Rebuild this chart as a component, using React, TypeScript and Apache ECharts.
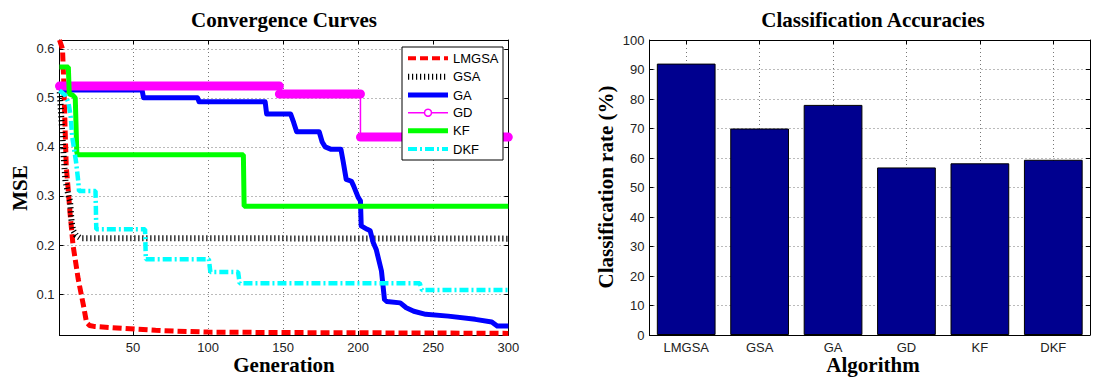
import React, { useEffect, useRef } from "react";
import * as echarts from "echarts";

// ---------- Convergence curves (generation, MSE) ----------
const lmgsaGen = [1, 3, 4, 4.7, 5.5, 6.5, 8, 10, 13.5, 17, 19, 21, 24, 43, 65, 77, 100, 150, 200, 250, 300];
const lmgsaMse = [0.618, 0.6, 0.52, 0.44, 0.36, 0.324, 0.266, 0.2, 0.13, 0.076, 0.042, 0.036, 0.034, 0.03, 0.026, 0.0245, 0.0224, 0.0215, 0.021, 0.0205, 0.0198];

const gsaGen = [1, 2, 3, 4, 5, 7, 8, 9, 10, 12, 15, 300];
const gsaMse = [0.52, 0.47, 0.42, 0.37, 0.33, 0.3, 0.29, 0.25, 0.23, 0.22, 0.214, 0.213];

const gaGen = [1, 56, 57, 93, 94, 138, 139, 155, 157, 159, 174, 176, 178, 182, 188.5, 190, 192, 195.5, 197, 200, 201.5, 202, 206, 208, 210, 212, 215.5, 217.5, 219, 228, 232, 237, 245, 260, 278, 289, 292.6, 300];
const gaMse = [0.516, 0.516, 0.5, 0.5, 0.492, 0.492, 0.467, 0.467, 0.45, 0.431, 0.431, 0.41, 0.4, 0.395, 0.395, 0.37, 0.334, 0.33, 0.32, 0.297, 0.29, 0.239, 0.232, 0.229, 0.205, 0.191, 0.147, 0.089, 0.085, 0.082, 0.072, 0.065, 0.0586, 0.055, 0.0484, 0.043, 0.0347, 0.0347];

// GD: plateau boundaries (generations) and plateau values
const gdGen = [1, 147.5, 201.5, 300];
const gdMse = [0.524, 0.508, 0.42];

const kfGen = [1, 6.9, 7.5, 10, 11.5, 12.5, 13, 123.5, 124, 300];
const kfMse = [0.563, 0.563, 0.508, 0.505, 0.5, 0.39, 0.384, 0.384, 0.279, 0.279];

const dkfGen = [1, 5, 7, 8.5, 9.5, 12, 13.5, 14, 25, 25.5, 58, 58.5, 100.5, 101.5, 120, 121, 241, 242.5, 300];
const dkfMse = [0.515, 0.505, 0.49, 0.46, 0.42, 0.37, 0.33, 0.31, 0.31, 0.232, 0.232, 0.171, 0.171, 0.145, 0.145, 0.122, 0.122, 0.108, 0.108];

// ---------- Classification accuracies ----------
const algorithms = ["LMGSA", "GSA", "GA", "GD", "KF", "DKF"];
const accuracy = [92, 70, 78, 56.8, 58.2, 59.4];

const seriesNames = ["LMGSA", "GSA", "GA", "GD", "KF", "DKF"];

const pairs = (g: number[], v: number[]) => g.map((x, i) => [x, v[i]]);

const SANS = '"Liberation Sans", Arial, Helvetica, sans-serif';
const SERIF = '"Liberation Serif", "Times New Roman", serif';

const gridSplit = { show: true, lineStyle: { color: "#777", type: [1, 3] as any, width: 1 } };
const axisLine = { show: true, onZero: false, lineStyle: { color: "#000", width: 1 } };
const tick = { show: true, inside: true, length: 4, lineStyle: { color: "#000" } };
const labelStyle = { fontFamily: SANS, fontSize: 13, color: "#222" };

function buildOption() {
  const gdStep: number[][] = [];
  for (let i = 0; i < gdMse.length; i++) {
    gdStep.push([gdGen[i], gdMse[i]]);
    gdStep.push([gdGen[i + 1], gdMse[i]]);
  }
  const gdThick = gdMse.map((v, i) => ({
    type: "line",
    xAxisIndex: 0,
    yAxisIndex: 0,
    data: [[gdGen[i], v], [gdGen[i + 1], v]],
    showSymbol: false,
    clip: false,
    lineStyle: { color: "#FF00FF", width: 9, cap: "round" },
    silent: true,
  }));

  const lineSeries = (name: string, data: number[][], style: any, extra: any = {}) => ({
    name,
    type: "line",
    xAxisIndex: 0,
    yAxisIndex: 0,
    data,
    showSymbol: false,
    lineStyle: style,
    ...extra,
  });

  const legendRows = [
    { stroke: "#FF0000", lineWidth: 4, lineDash: [8, 4] },
    { stroke: "#000000", lineWidth: 6, lineDash: [1.2, 2.8] },
    { stroke: "#0000FF", lineWidth: 5 },
    { stroke: "#FF00FF", lineWidth: 1.5 },
    { stroke: "#00FF00", lineWidth: 5 },
    { stroke: "#00FFFF", lineWidth: 4, lineDash: [9, 3, 2, 3] },
  ];
  const lx = 402, ly = 47, lw = 101, lh = 113;
  const rowY = [58.3, 76.7, 95, 112.7, 130.7, 149];
  const legendEls: any[] = [
    { type: "rect", shape: { x: lx, y: ly, width: lw, height: lh }, style: { fill: "#fff", stroke: "#000", lineWidth: 1 }, z: 100 },
  ];
  seriesNames.forEach((n, i) => {
    legendEls.push({
      type: "line",
      shape: { x1: 408, y1: rowY[i], x2: 448, y2: rowY[i] },
      style: { ...legendRows[i], lineCap: "butt", fill: null },
      z: 101,
    });
    if (n === "GD") {
      legendEls.push({ type: "circle", shape: { cx: 428, cy: rowY[i], r: 3.5 }, style: { fill: "#fff", stroke: "#FF00FF", lineWidth: 1.5 }, z: 102 });
    }
    legendEls.push({
      type: "text",
      x: 453,
      y: rowY[i],
      style: { text: n, font: `13px ${SANS}`, fill: "#000", align: "left", verticalAlign: "middle" },
      z: 101,
    });
  });

  const titleFont = `bold 21px ${SERIF}`;
  const texts: any[] = [
    { type: "text", x: 284, y: 20, style: { text: "Convergence Curves", font: titleFont, fill: "#000", align: "center", verticalAlign: "middle" } },
    { type: "text", x: 873, y: 20, style: { text: "Classification Accuracies", font: titleFont, fill: "#000", align: "center", verticalAlign: "middle" } },
    { type: "text", x: 284, y: 365, style: { text: "Generation", font: titleFont, fill: "#000", align: "center", verticalAlign: "middle" } },
    { type: "text", x: 873, y: 365, style: { text: "Algorithm", font: titleFont, fill: "#000", align: "center", verticalAlign: "middle" } },
    { type: "text", x: 20, y: 188, rotation: Math.PI / 2, style: { text: "MSE", font: titleFont, fill: "#000", align: "center", verticalAlign: "middle" } },
    { type: "text", x: 606, y: 187, rotation: Math.PI / 2, style: { text: "Classification rate (%)", font: titleFont, fill: "#000", align: "center", verticalAlign: "middle" } },
  ];

  return {
    animation: false,
    backgroundColor: "#fff",
    grid: [
      { left: 59.5, top: 40, width: 448.8, height: 295, show: false },
      { left: 649.5, top: 40, width: 447, height: 295, show: false },
    ],
    xAxis: [
      {
        type: "value", gridIndex: 0, position: "bottom", min: 1, max: 300, splitNumber: 6,
        axisLine, axisTick: tick,
        axisLabel: { ...labelStyle, margin: 6, formatter: (v: number) => (v % 50 === 0 ? String(v) : "") },
        splitLine: gridSplit,
      },
      {
        type: "value", gridIndex: 0, position: "top", min: 1, max: 300, splitNumber: 6,
        axisLine, axisTick: tick, axisLabel: { show: false }, splitLine: { show: false },
      },
      {
        type: "value", gridIndex: 1, position: "bottom", min: 0.5, max: 6.5, splitNumber: 6,
        axisLine, axisTick: tick,
        axisLabel: { ...labelStyle, margin: 6, formatter: (v: number) => (Number.isInteger(v) && v >= 1 && v <= 6 ? algorithms[v - 1] : "") },
        splitLine: gridSplit,
      },
      {
        type: "value", gridIndex: 1, position: "top", min: 0.5, max: 6.5, splitNumber: 6,
        axisLine, axisTick: tick, axisLabel: { show: false }, splitLine: { show: false },
      },
    ],
    yAxis: [
      {
        type: "value", gridIndex: 0, position: "left", min: 0.0165, max: 0.618, splitNumber: 6,
        axisLine, axisTick: tick,
        axisLabel: {
          ...labelStyle, margin: 5,
          formatter: (v: number) => (Math.abs(v * 10 - Math.round(v * 10)) < 1e-6 ? (Math.round(v * 10) / 10).toFixed(1) : ""),
        },
        splitLine: gridSplit,
      },
      {
        type: "value", gridIndex: 0, position: "right", min: 0.0165, max: 0.618, splitNumber: 6,
        axisLine, axisTick: tick, axisLabel: { show: false }, splitLine: { show: false },
      },
      {
        type: "value", gridIndex: 1, position: "left", min: 0, max: 100, interval: 10,
        axisLine, axisTick: tick, axisLabel: { ...labelStyle, margin: 5 }, splitLine: gridSplit,
      },
      {
        type: "value", gridIndex: 1, position: "right", min: 0, max: 100, interval: 10,
        axisLine, axisTick: tick, axisLabel: { show: false }, splitLine: { show: false },
      },
    ],
    series: [
      lineSeries("LMGSA", pairs(lmgsaGen, lmgsaMse), { color: "#FF0000", width: 5, type: [9, 4], cap: "butt" }),
      lineSeries("GSA", pairs(gsaGen, gsaMse), { color: "#000000", width: 6, type: [1.2, 2.8], cap: "butt" }),
      lineSeries("GA", pairs(gaGen, gaMse), { color: "#0000FF", width: 5, join: "round" }),
      ...gdThick,
      lineSeries("GD", gdStep, { color: "#FF00FF", width: 1.5 }, { clip: false }),
      lineSeries("KF", pairs(kfGen, kfMse), { color: "#00FF00", width: 5 }),
      lineSeries("DKF", pairs(dkfGen, dkfMse), { color: "#00FFFF", width: 4.5, type: [9, 3, 2, 3], cap: "butt" }),
      {
        name: "Accuracy",
        type: "bar",
        xAxisIndex: 2,
        yAxisIndex: 2,
        barWidth: "80%",
        data: algorithms.map((_, i) => [i + 1, accuracy[i]]),
        itemStyle: { color: "#00008F", borderColor: "#000", borderWidth: 1 },
      },
    ],
    graphic: [...texts, ...legendEls],
  };
}

export default function App() {
  const ref = useRef<HTMLDivElement>(null);
  useEffect(() => {
    if (!ref.current) return;
    const chart = echarts.init(ref.current, null, { renderer: "svg" });
    chart.setOption(buildOption() as any);
    return () => chart.dispose();
  }, []);
  return (
    <div
      ref={ref}
      style={{ position: "fixed", left: 0, top: 0, width: 1093, height: 378, background: "#fff" }}
    />
  );
}
